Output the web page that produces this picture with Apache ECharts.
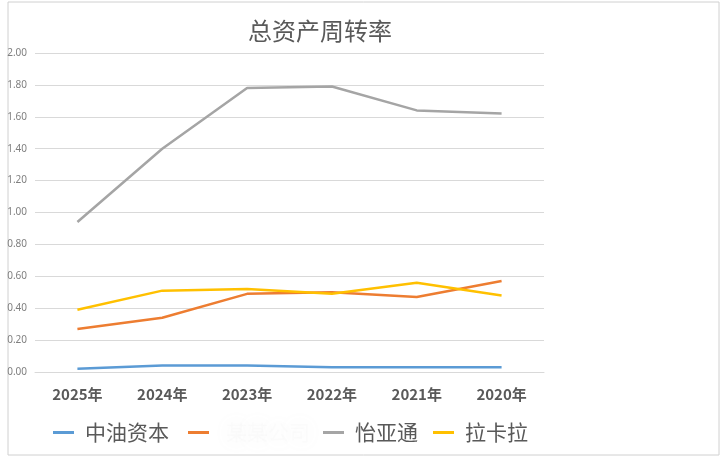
<!DOCTYPE html>
<html><head><meta charset="utf-8">
<script src="https://cdn.jsdelivr.net/npm/echarts@6/dist/echarts.min.js"></script>
<style>html,body{margin:0;padding:0;background:#fff}#c{width:720px;height:457px}</style>
</head><body><div id="c"></div>
<script>
const categories = ['2025年','2024年','2023年','2022年','2021年','2020年'];
const seriesNames = ['中油资本','某某公司','怡亚通','拉卡拉'];
const zhongyou = [0.02,0.04,0.04,0.03,0.03,0.03];
const hidden = [0.27,0.34,0.49,0.50,0.47,0.57];
const yiyatong = [0.94,1.40,1.78,1.79,1.64,1.62];
const lakala = [0.39,0.51,0.52,0.49,0.56,0.48];
const colors = ['#5B9BD5','#ED7D31','#A5A5A5','#FFC000'];
const values = [zhongyou, hidden, yiyatong, lakala];
const legendLefts = [48,183,318,428];

const chart = echarts.init(document.getElementById('c'));
chart.setOption({
  animation:false,
  title:{text:'总资产周转率',left:243,top:14,textStyle:{fontFamily:'Noto Sans CJK SC',fontSize:24,fontWeight:'normal',color:'#595959'}},
  grid:{left:35,right:176,top:53,bottom:85},
  xAxis:{type:'category',data:categories,boundaryGap:true,
    axisLine:{lineStyle:{color:'#d9d9d9'}},axisTick:{show:false},
    axisLabel:{color:'#595959',fontSize:15,fontWeight:'bold',margin:15,fontFamily:'Noto Sans CJK SC'}},
  yAxis:{type:'value',min:0,max:2,interval:0.2,
    axisLabel:{formatter:v=>v.toFixed(2),color:'#7f7f7f',fontSize:10,margin:8,fontFamily:'Noto Sans'},
    splitLine:{lineStyle:{color:'#d9d9d9',width:1}},axisLine:{show:false},axisTick:{show:false}},
  legend: seriesNames.map((n,i)=>({left:legendLefts[i],top:417,itemWidth:21,itemHeight:3,icon:'rect',
    data:[n],
    textStyle:{fontFamily:'Noto Sans CJK SC',fontSize:21,color:'#595959',padding:[0,0,0,6],
      rich:{blur:{color:'rgba(235,235,235,0.15)',textShadowColor:'rgba(170,170,170,0.7)',textShadowBlur:18,fontSize:21,padding:[0,0,0,6]}}},
    formatter:nm=> i===1 ? '{blur|'+nm+'}' : nm})),
  series: seriesNames.map((n,i)=>({name:n,type:'line',data:values[i],symbol:'none',
    lineStyle:{color:colors[i],width:2.5},itemStyle:{color:colors[i]}})),
  graphic:[{type:'rect',shape:{x:8,y:2,width:711,height:453},style:{fill:'none',stroke:'#d0d0d0',lineWidth:1},silent:true}]
});
</script></body></html>
